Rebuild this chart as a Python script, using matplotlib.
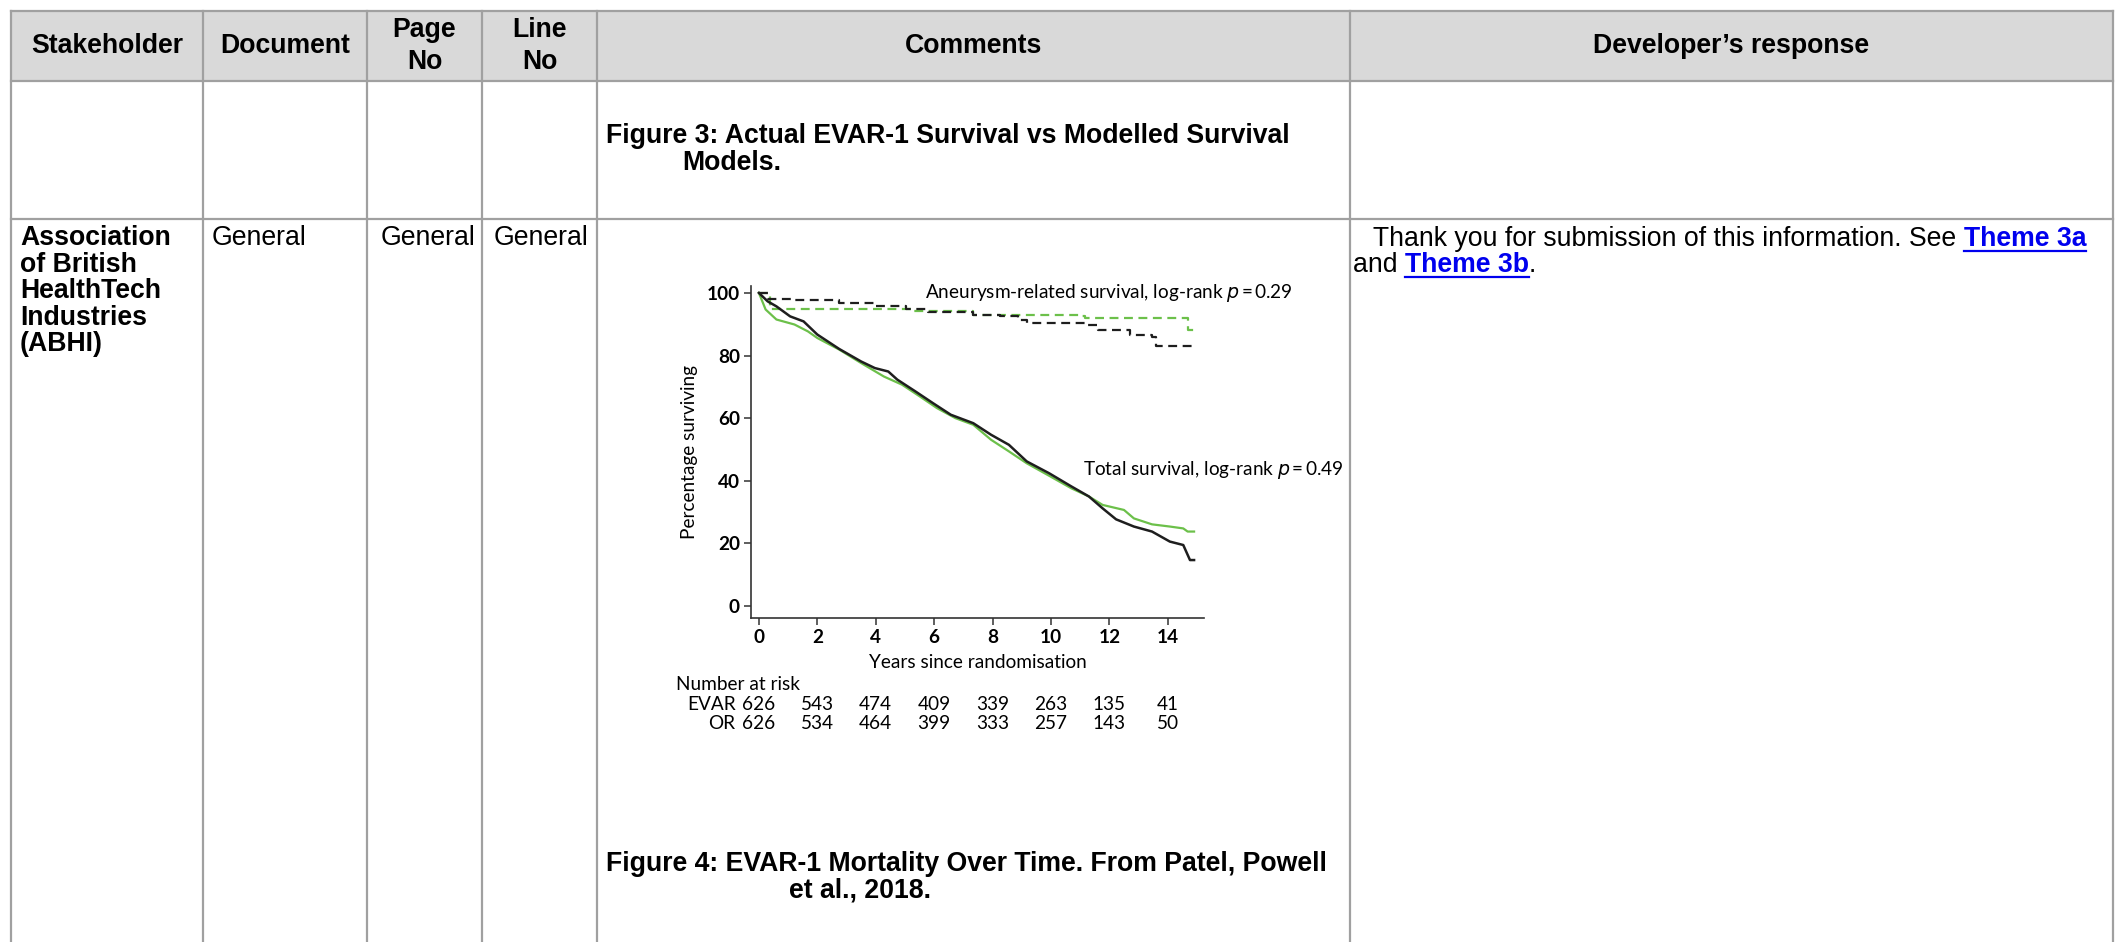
import matplotlib
matplotlib.use("Agg")
import matplotlib.pyplot as plt
from matplotlib.transforms import blended_transform_factory

# ---- table content ----
col_edges = [11, 203, 367, 482, 597, 1350, 2113]
row_edges = [11, 81, 219]
headers = ["Stakeholder", "Document", "Page\nNo", "Line\nNo", "Comments", "Developer\u2019s response"]
stakeholder = ["Association", "of British", "HealthTech", "Industries", "(ABHI)"]

# ---- KM curve data (years, % surviving) ----
evar_total_t = [0, 0.3, 0.6, 1.07, 1.53, 2.0, 2.75, 3.5, 3.97, 4.43, 4.74, 5.35, 5.96, 6.57, 7.34,
                7.95, 8.56, 9.17, 9.94, 10.7, 11.3, 11.77, 12.23, 12.84, 13.46, 14.07, 14.53, 14.76, 14.9]
evar_total_s = [100, 97.3, 95.7, 92.5, 90.9, 86.7, 82.1, 78.1, 76.0, 74.9, 72.3, 68.6, 64.8, 61.1, 58.4,
                54.7, 51.5, 46.2, 42.4, 38.2, 35.0, 31.2, 27.7, 25.4, 23.8, 20.6, 19.5, 14.7, 14.7]
or_total_t = [0, 0.23, 0.6, 1.22, 1.68, 2.0, 2.75, 3.5, 4.28, 4.9, 5.5, 6.1, 6.73, 7.34, 7.95, 8.56,
              9.17, 9.94, 10.7, 11.3, 11.77, 12.5, 12.84, 13.46, 14.07, 14.53, 14.68, 14.9]
or_total_s = [100, 94.7, 91.5, 89.9, 87.7, 85.6, 81.9, 77.6, 73.3, 70.7, 67.0, 63.2, 60.0, 57.9, 53.1, 49.4,
              45.6, 41.6, 37.6, 35.0, 32.3, 30.7, 28.0, 26.1, 25.4, 24.8, 23.8, 23.8]
evar_aaa_t = [0, 0.3, 1.22, 2.75, 3.97, 5.05, 5.8, 7.34, 8.26, 8.87, 9.17, 11.16, 11.6, 12.7, 13.46, 13.58, 14.9]
evar_aaa_s = [100, 97.9, 97.7, 96.8, 95.7, 94.7, 93.8, 93.1, 92.5, 91.5, 90.4, 89.9, 88.3, 86.7, 85.9, 83.2, 82.9]
or_aaa_t = [0, 0.38, 5.0, 5.2, 7.34, 11.0, 11.16, 14.68, 14.7, 14.9]
or_aaa_s = [100, 94.9, 94.7, 94.1, 93.1, 92.5, 92.0, 92.0, 88.1, 88.1]

risk_years = [0, 2, 4, 6, 8, 10, 12, 14]
risk_evar = [626, 543, 474, 409, 339, 263, 135, 41]
risk_or = [626, 534, 464, 399, 333, 257, 143, 50]

W, H = 2117, 942
fig = plt.figure(figsize=(W / 100, H / 100), dpi=100)

# full-figure axes in pixel coordinates for the table
tab = fig.add_axes([0, 0, 1, 1])
tab.set_xlim(0, W)
tab.set_ylim(H, 0)
tab.axis("off")

tfont = "Liberation Sans"
fs = 19.2
grid = "#a0a0a0"
link = "#0000ee"
tab.fill_between([col_edges[0], col_edges[-1]], row_edges[0], row_edges[1], color="#d9d9d9", lw=0)
for x in col_edges:
    tab.plot([x, x], [row_edges[0], H], color=grid, lw=1.6)
for y in row_edges:
    tab.plot([col_edges[0], col_edges[-1]], [y, y], color=grid, lw=1.6)

for i, h in enumerate(headers):
    cx = (col_edges[i] + col_edges[i + 1]) / 2
    tab.text(cx, 46, h, ha="center", va="center", fontsize=fs, fontweight="bold",
             family=tfont, linespacing=1.3)

tab.text(606, 136, "Figure 3: Actual EVAR-1 Survival vs Modelled Survival", ha="left", va="center",
         fontsize=fs, fontweight="bold", family=tfont)
tab.text(732, 163, "Models.", ha="center", va="center", fontsize=fs, fontweight="bold", family=tfont)

for k, line in enumerate(stakeholder):
    tab.text(20, 238 + k * 26.6, line, ha="left", va="center", fontsize=fs, fontweight="bold", family=tfont)
for x in [212, 381, 494]:
    tab.text(x, 238, "General", ha="left", va="center", fontsize=fs, family=tfont)

t1 = tab.text(1366, 246, " Thank you for submission of this information. See ", ha="left",
              va="baseline", fontsize=fs, family=tfont)
l1 = tab.annotate("Theme 3a", xy=(1, 0), xycoords=t1, ha="left", va="bottom", fontsize=fs,
                  fontweight="bold", family=tfont, color=link)
t2 = tab.text(1353, 272, "and ", ha="left", va="baseline", fontsize=fs, family=tfont)
l2 = tab.annotate("Theme 3b", xy=(1, 0), xycoords=t2, ha="left", va="bottom", fontsize=fs,
                  fontweight="bold", family=tfont, color=link)
tab.annotate(".", xy=(1, 0), xycoords=l2, ha="left", va="bottom", fontsize=fs, family=tfont)

tab.text(606, 864, "Figure 4: EVAR-1 Mortality Over Time. From Patel, Powell", ha="left", va="center",
         fontsize=fs, fontweight="bold", family=tfont)
tab.text(860, 891, "et al., 2018.", ha="center", va="center", fontsize=fs, fontweight="bold", family=tfont)

# ---- embedded KM chart ----
cfont = "Lato"
cs = 13.7
green = "#6cc04a"
black = "#1e1e1e"
left, right, top, bottom = 751, 1204, 286, 618
ax = fig.add_axes([left / W, (H - bottom) / H, (right - left) / W, (bottom - top) / H])
ax.step(or_aaa_t, or_aaa_s, where="post", color=green, lw=1.6, ls=(0, (4, 2.5)))
ax.step(evar_aaa_t, evar_aaa_s, where="post", color=black, lw=1.6, ls=(0, (4, 2.5)))
ax.plot(or_total_t, or_total_s, color=green, lw=1.6)
ax.plot(evar_total_t, evar_total_s, color=black, lw=1.8)

ax.set_xlim(-0.27, 15.24)
ax.set_ylim(-3.8, 102.2)
ax.set_xticks(risk_years)
ax.set_yticks([0, 20, 40, 60, 80, 100])
for s in ["top", "right"]:
    ax.spines[s].set_visible(False)
for s in ["left", "bottom"]:
    ax.spines[s].set_color("#333333")
    ax.spines[s].set_linewidth(1.2)
ax.tick_params(length=5, width=1.1, color="#333333", labelsize=cs, pad=3)
for lab in ax.get_xticklabels() + ax.get_yticklabels():
    lab.set_family(cfont)
    lab.set_fontweight("bold")
ax.set_xlabel("Years since randomisation", family=cfont, fontsize=cs, labelpad=6)
ax.set_ylabel("Percentage surviving", family=cfont, fontsize=cs, labelpad=6)

ax.text(5.7, 100, "Aneurysm-related survival, log-rank $\\it{p}$\u2009=\u20090.29", family=cfont,
        fontsize=cs, ha="left", va="center")
ax.text(11.1, 43.5, "Total survival, log-rank $\\it{p}$\u2009=\u20090.49", family=cfont,
        fontsize=cs, ha="left", va="center")

tr = blended_transform_factory(ax.transData, ax.transAxes)
ax.text(-2.85, -0.2, "Number at risk", transform=tr, family=cfont, fontsize=cs, ha="left", va="center")
ax.text(-0.8, -0.262, "EVAR", transform=tr, family=cfont, fontsize=cs, ha="right", va="center")
ax.text(-0.8, -0.318, "OR", transform=tr, family=cfont, fontsize=cs, ha="right", va="center")
for yr, e, o in zip(risk_years, risk_evar, risk_or):
    ax.text(yr, -0.262, str(e), transform=tr, family=cfont, fontsize=cs, ha="center", va="center")
    ax.text(yr, -0.318, str(o), transform=tr, family=cfont, fontsize=cs, ha="center", va="center")

# underline the link texts
fig.canvas.draw()
r = fig.canvas.get_renderer()
inv = tab.transData.inverted()
for lk in [l1, l2]:
    bb = lk.get_window_extent(r)
    (x0, y0), (x1, _) = inv.transform([(bb.x0, bb.y0), (bb.x1, bb.y1)])
    tab.plot([x0, x1], [y0 - 1, y0 - 1], color=link, lw=1.6)

fig.savefig("out.png", dpi=100)
